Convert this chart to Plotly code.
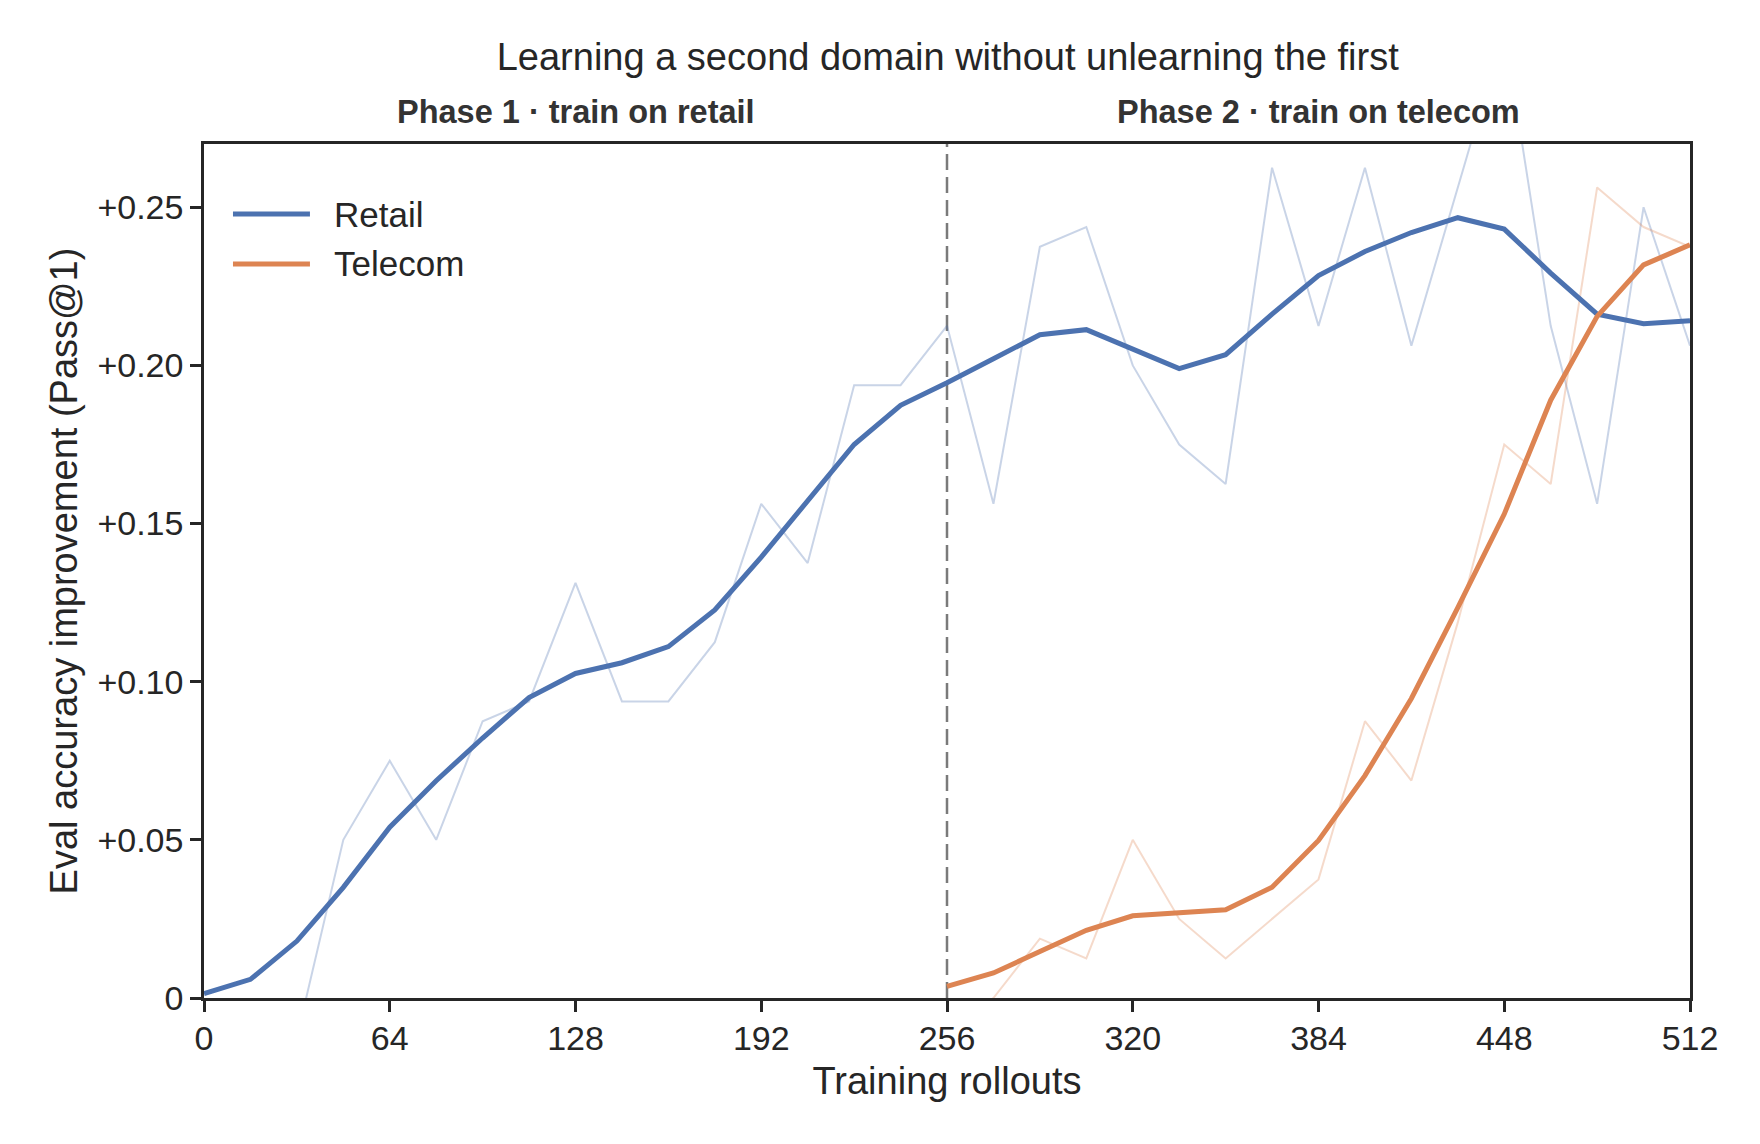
import plotly.graph_objects as go

# ---------------- data ----------------
rollouts_retail = list(range(0, 513, 16))
retail_raw = [-0.025, -0.0125, -0.0125, 0.05, 0.075, 0.05, 0.0875, 0.09375, 0.13125,
              0.09375, 0.09375, 0.1125, 0.15625, 0.1375, 0.19375, 0.19375, 0.2125,
              0.15625, 0.2375, 0.24375, 0.2, 0.175, 0.1625, 0.2625, 0.2125, 0.2625,
              0.20625, 0.25625, 0.30625, 0.2125, 0.15625, 0.25, 0.20625]
retail_smooth = [0.0014, 0.0059, 0.018, 0.035, 0.054, 0.0687, 0.0822, 0.095, 0.1026,
                 0.106, 0.1111, 0.1227, 0.1394, 0.157, 0.175, 0.1874, 0.1945,
                 0.2021, 0.2097, 0.2113, 0.2052, 0.199, 0.2034, 0.2162, 0.2284, 0.236,
                 0.242, 0.2467, 0.2431, 0.2292, 0.2162, 0.2132, 0.2141]

rollouts_telecom = list(range(256, 513, 16))
telecom_raw = [-0.0125, 0.0, 0.01875, 0.0125, 0.05, 0.025, 0.0125, 0.025, 0.0375,
               0.0875, 0.06875, 0.11875, 0.175, 0.1625, 0.25625, 0.24375, 0.2375]
telecom_smooth = [0.0037, 0.0079, 0.0147, 0.0214, 0.026, 0.0268, 0.0279, 0.035, 0.0498,
                  0.0703, 0.0947, 0.1234, 0.153, 0.189, 0.2155, 0.2318, 0.2381]

x_ticks = [0, 64, 128, 192, 256, 320, 384, 448, 512]
y_ticks = [0, 0.05, 0.10, 0.15, 0.20, 0.25]
y_ticktext = ["0", "+0.05", "+0.10", "+0.15", "+0.20", "+0.25"]
phase_split = 256
series_names = ["Retail", "Telecom"]
phase_labels = ["Phase 1 · train on retail", "Phase 2 · train on telecom"]

# ---------------- style ----------------
FONT = "Liberation Sans, Arial, Helvetica, sans-serif"
TXT = "#262626"
BLUE = "#4C72B0"
ORANGE = "#DD8452"
BLUE_FAINT = "rgba(76,114,176,0.3)"
ORANGE_FAINT = "rgba(221,132,82,0.3)"

W, H = 1752, 1136  # page body keeps an 8px margin inside the 1760x1144 window

fig = go.Figure()
fig.add_trace(go.Scatter(x=rollouts_retail, y=retail_raw, mode="lines",
                         line=dict(color=BLUE_FAINT, width=2), showlegend=False,
                         hoverinfo="skip"))
fig.add_trace(go.Scatter(x=rollouts_telecom, y=telecom_raw, mode="lines",
                         line=dict(color=ORANGE_FAINT, width=2), showlegend=False,
                         hoverinfo="skip"))
fig.add_trace(go.Scatter(x=rollouts_retail, y=retail_smooth, mode="lines",
                         name=series_names[0], line=dict(color=BLUE, width=5),
                         showlegend=False))
fig.add_trace(go.Scatter(x=rollouts_telecom, y=telecom_smooth, mode="lines",
                         name=series_names[1], line=dict(color=ORANGE, width=5),
                         showlegend=False))

fig.add_vline(x=phase_split, line=dict(color="#7a7a7a", width=2.5, dash="16px,7px"),
              layer="below")

# legend (drawn manually for matplotlib-like long handles)
legend_rows = [(series_names[0], BLUE, 0.918), (series_names[1], ORANGE, 0.8596)]
for name, col, yy in legend_rows:
    fig.add_shape(type="line", xref="paper", yref="paper", x0=0.0195, x1=0.0713,
                  y0=yy, y1=yy, line=dict(color=col, width=5))
    fig.add_annotation(text=name, xref="paper", yref="paper", x=0.0862, y=yy,
                       xanchor="left", yanchor="middle", showarrow=False,
                       font=dict(family=FONT, size=35, color=TXT))

# phase labels
for lab, xc in zip(phase_labels, [128, 384]):
    fig.add_annotation(text="<b>" + lab + "</b>", xref="x", yref="paper", x=xc,
                       y=1.0375, xanchor="center", yanchor="middle", showarrow=False,
                       font=dict(family=FONT, size=32.5, color="#333333"))

axis_common = dict(showline=True, linecolor=TXT, linewidth=2.5, mirror=True,
                   ticks="outside", ticklen=11, tickwidth=2.5, tickcolor=TXT,
                   showgrid=False, zeroline=False,
                   tickfont=dict(family=FONT, size=34, color=TXT))

fig.update_layout(
    width=W, height=H,
    margin=dict(l=196, r=70, t=136, b=146, pad=0),
    paper_bgcolor="white", plot_bgcolor="white",
    font=dict(family=FONT, color=TXT),
    title=dict(text="Learning a second domain without unlearning the first",
               x=0.5005, xref="paper", y=1 - 49 / H, yref="container",
               xanchor="center", yanchor="middle",
               font=dict(family=FONT, size=38, color=TXT)),
    xaxis=dict(range=[0, 512], tickvals=x_ticks, ticktext=[str(v) for v in x_ticks],
               ticklabelstandoff=-3,
               title=dict(text="Training rollouts", standoff=12,
                          font=dict(family=FONT, size=38, color=TXT)),
               **axis_common),
    yaxis=dict(range=[0, 0.27], tickvals=y_ticks, ticktext=y_ticktext,
               title=dict(text="Eval accuracy improvement (Pass@1)", standoff=9,
                          font=dict(family=FONT, size=38, color=TXT)),
               **axis_common),
    showlegend=False,
)

fig.write_html("out.html")
